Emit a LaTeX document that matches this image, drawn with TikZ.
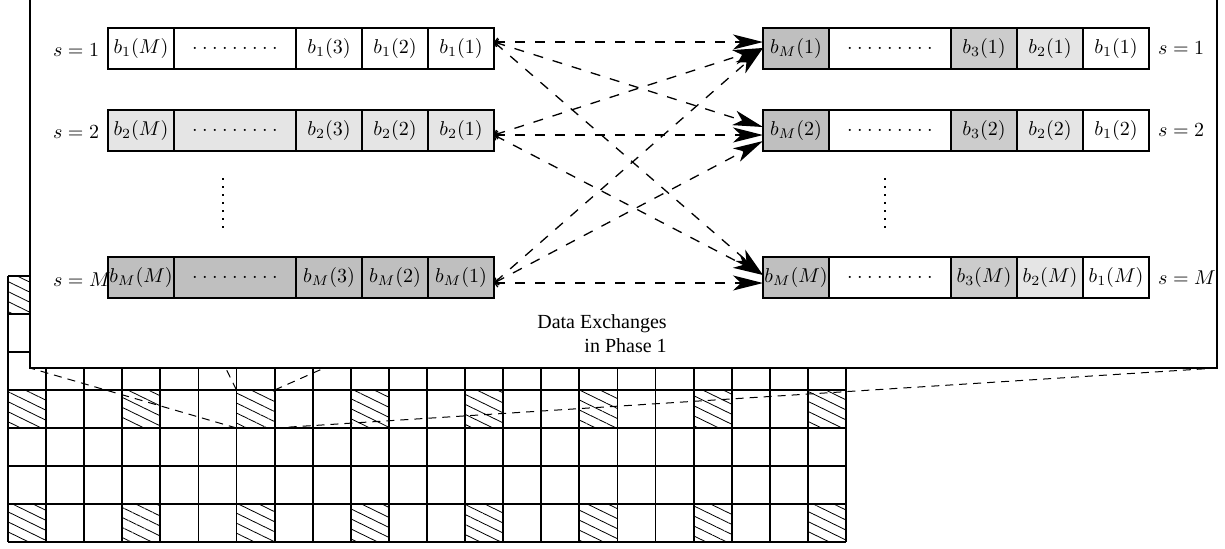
\documentclass[tikz,border=0pt]{standalone}
\usepackage{fontspec}
\newfontfamily\capfont{Liberation Serif}
\usetikzlibrary{positioning,arrows.meta,patterns.meta}

\newcommand{\celldots}{$.\:.\:.\:.\:.\:.\:.\:.\:.$}

\tikzset{
  cell/.style={draw, line width=0.6pt, minimum width=33pt, minimum height=20.5pt, inner sep=0pt, outer sep=0pt},
  dotcell/.style={cell, minimum width=61pt},
  xchg/.style={line width=0.65pt, dash pattern=on 5pt off 5pt,
    {Straight Barb[length=1.5pt,width=4pt]}-{Stealth[length=15pt,width=7.5pt,inset=4pt]}},
  zoomline/.style={line width=0.5pt, dash pattern=on 4pt off 3pt},
  hatch/.style={pattern={Lines[angle=-26,distance=4.5pt,line width=0.4pt]}},
}

\begin{document}
\begin{tikzpicture}[x=0.5pt, y=-0.5pt]
\useasboundingbox (0,0) rectangle (1225,548);

% memory grid
\foreach \r in {0,3,6}
  \foreach \c in {0,3,...,21}
    \fill[hatch] (8+38.09*\c,276+38*\r) rectangle ++(38.09,38);
\foreach \c in {0,...,22}
  \draw[line width=0.9pt] (8+38.09*\c,276) -- (8+38.09*\c,542);
\foreach \r in {0,...,7}
  \draw[line width=0.9pt] (8,276+38*\r) -- (846,276+38*\r);

% zoom on one cell
\coordinate (ctl) at (236.5,390); \coordinate (ctr) at (274.6,390);
\coordinate (cbl) at (236.5,428); \coordinate (cbr) at (274.6,428);
\coordinate (btl) at (30,-27);    \coordinate (btr) at (1217,-27);
\coordinate (bbl) at (30,368);    \coordinate (bbr) at (1217,368);
\draw[zoomline] (ctl) -- (btl) (ctr) -- (btr) (cbl) -- (bbl) (cbr) -- (bbr);
\draw[line width=0.9pt, fill=white] (btl) rectangle (bbr);

% send buffers
\foreach \s/\y/\col in {1/48.5/white, 2/130.5/gray!20, M/277.5/gray!50} {
  \node[cell, fill=\col, anchor=west] (L\s-m) at (108,\y) {$b_{\s}(M)$};
  \node[dotcell, fill=\col, right=0pt of L\s-m] (L\s-d) {\celldots};
  \node[cell, fill=\col, right=0pt of L\s-d] (L\s-3) {$b_{\s}(3)$};
  \node[cell, fill=\col, right=0pt of L\s-3] (L\s-2) {$b_{\s}(2)$};
  \node[cell, fill=\col, right=0pt of L\s-2] (L\s-1) {$b_{\s}(1)$};
  \node[anchor=west] (sl\s) at (46,\y+2) {$s=\s$};
}

% receive buffers
\foreach \s/\y in {1/48.5, 2/130.5, M/277.5} {
  \node[cell, fill=gray!50, anchor=west] (R\s-m) at (763,\y) {$b_M(\s)$};
  \node[dotcell, fill=white, right=0pt of R\s-m] (R\s-d) {\celldots};
  \node[cell, fill=gray!40, right=0pt of R\s-d] (R\s-3) {$b_3(\s)$};
  \node[cell, fill=gray!20, right=0pt of R\s-3] (R\s-2) {$b_2(\s)$};
  \node[cell, fill=white, right=0pt of R\s-2] (R\s-1) {$b_1(\s)$};
  \node[right=1pt of R\s-1] (sr\s) {$s=\s$};
}

\draw[line width=0.9pt, dash pattern=on 0.8pt off 3.2pt] (223,178) -- (223,232);
\draw[line width=0.9pt, dash pattern=on 0.8pt off 3.2pt] (885,178) -- (885,232);

% exchanges
\foreach \i/\a/\si in {1/1/3.25, 2/2/-2.25, M/3/-2.75}
  \foreach \j/\b/\sj in {1/1/3.25, 2/2/-2.25, M/3/-2.75} {
    \pgfmathsetmacro\dy{\sj+(\a<\b)*4-(\a>\b)*3}
    \draw[xchg] ([yshift=\si pt]L\i-1.east) -- ([yshift=\dy pt]R\j-m.west);
  }

\node[font=\capfont, align=right] (cap) at (602,334) {Data Exchanges\\in Phase 1};
\end{tikzpicture}
\end{document}
